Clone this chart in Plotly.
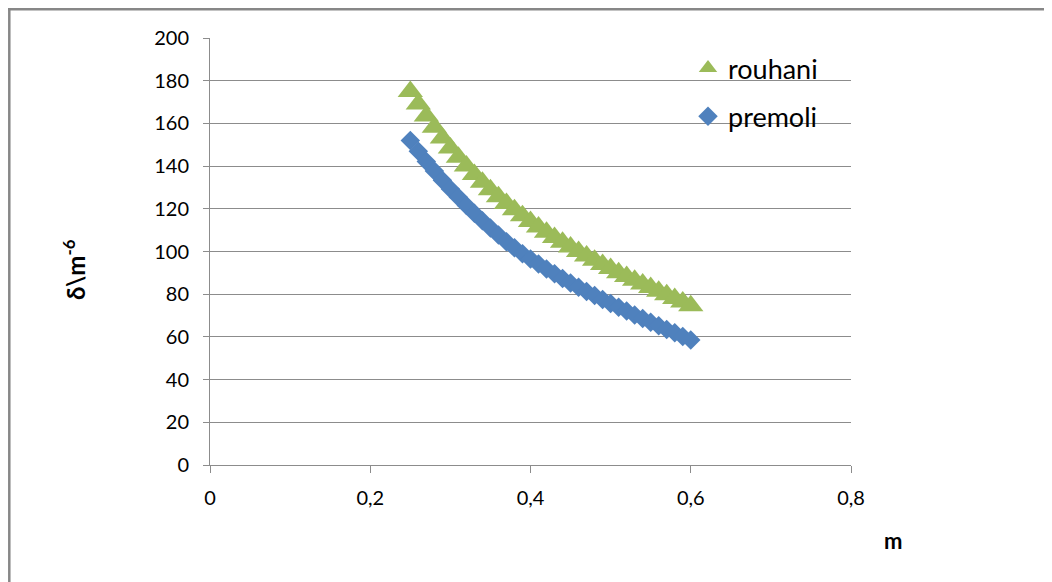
import plotly.graph_objects as go

m_values = [0.25, 0.26, 0.27, 0.28, 0.29, 0.30, 0.31, 0.32, 0.33, 0.34, 0.35, 0.36,
            0.37, 0.38, 0.39, 0.40, 0.41, 0.42, 0.43, 0.44, 0.45, 0.46, 0.47, 0.48,
            0.49, 0.50, 0.51, 0.52, 0.53, 0.54, 0.55, 0.56, 0.57, 0.58, 0.59, 0.60]

rouhani = [175.0, 169.1, 163.5, 158.2, 153.2, 148.5, 144.1, 140.0, 136.1, 132.4, 128.9, 125.6,
           122.5, 119.6, 116.8, 114.1, 111.5, 109.0, 106.6, 104.3, 102.1, 100.0, 97.9, 95.9,
           93.9, 92.0, 90.1, 88.3, 86.5, 84.8, 83.1, 81.4, 79.7, 78.0, 76.3, 74.6]

premoli = [152.0, 147.0, 142.2, 137.7, 133.4, 129.3, 125.4, 121.6, 117.9, 114.4, 111.0, 107.7,
           104.6, 101.7, 99.0, 96.5, 94.1, 91.8, 89.6, 87.4, 85.3, 83.3, 81.3, 79.4,
           77.5, 75.7, 73.9, 72.1, 70.3, 68.6, 66.9, 65.2, 63.5, 61.9, 60.2, 58.6]

x_tickvals = [0, 0.2, 0.4, 0.6, 0.8]
x_ticktext = ["0", "0,2", "0,4", "0,6", "0,8"]
y_tickvals = [0, 20, 40, 60, 80, 100, 120, 140, 160, 180, 200]

GREEN = "#9BBB59"
BLUE = "#4F81BD"
GRAY = "#8C8C8C"
FONT = "Lato"

fig = go.Figure()
fig.add_trace(go.Scatter(
    x=m_values, y=rouhani, mode="markers", name="rouhani",
    legendgroup="a",
    marker=dict(symbol="triangle-up", size=22, color=GREEN),
))
fig.add_trace(go.Scatter(
    x=m_values, y=premoli, mode="markers", name="premoli",
    legendgroup="b",
    marker=dict(symbol="diamond", size=15, color=BLUE),
))

# the page puts the figure 8px in from the top-left corner
OFF = 8
W, H = 1052, 582
# plot area in page pixels
X0, X1, Y0, Y1 = 210, 851, 38, 465
L, T = X0 - OFF, Y0 - OFF
R, B = W + OFF - X1, H + OFF - Y1
pw, ph = X1 - X0, Y1 - Y0


def px_x(p):
    return (p - X0) / pw


def px_y(p):
    return (Y1 - p) / ph


fig.update_layout(
    width=W, height=H,
    margin=dict(l=L, r=R, t=T, b=B, pad=0),
    paper_bgcolor="white", plot_bgcolor="white",
    font=dict(family=FONT, color="#000000", size=20),
    showlegend=True,
    legend=dict(
        x=px_x(688), y=px_y(44), xanchor="left", yanchor="top",
        font=dict(family=FONT, size=27, color="#000000"),
        bgcolor="rgba(0,0,0,0)", borderwidth=0,
        tracegroupgap=10, traceorder="grouped",
    ),
    xaxis=dict(
        range=[0, 0.8], tickvals=x_tickvals, ticktext=x_ticktext,
        showgrid=False, zeroline=False,
        showline=True, linecolor=GRAY, linewidth=1,
        ticks="outside", ticklen=7, tickcolor=GRAY, tickwidth=1,
        tickfont=dict(family=FONT, size=20, color="#000000"),
        ticklabelstandoff=8,
    ),
    yaxis=dict(
        range=[0, 200], tickvals=y_tickvals,
        showgrid=True, gridcolor=GRAY, gridwidth=1, zeroline=False,
        showline=True, linecolor=GRAY, linewidth=1,
        ticks="outside", ticklen=6, tickcolor=GRAY, tickwidth=1,
        tickfont=dict(family=FONT, size=20, color="#000000"),
        ticklabelstandoff=10,
    ),
    annotations=[
        dict(text="<b>δ\\m<sup>-6</sup></b>", xref="paper", yref="paper",
             x=px_x(74), y=px_y(270), xanchor="center", yanchor="middle",
             textangle=-90, showarrow=False,
             font=dict(family=FONT, size=24, color="#000000")),
        dict(text="<b>m</b>", xref="paper", yref="paper",
             x=px_x(893), y=px_y(540), xanchor="center", yanchor="middle",
             showarrow=False,
             font=dict(family=FONT, size=22, color="#000000")),
    ],
    shapes=[
        dict(type="line", xref="paper", yref="paper",
             x0=px_x(8), x1=px_x(1100), y0=px_y(9.3), y1=px_y(9.3),
             line=dict(color="#878787", width=2.5)),
        dict(type="line", xref="paper", yref="paper",
             x0=px_x(9.3), x1=px_x(9.3), y0=px_y(8), y1=px_y(640),
             line=dict(color="#878787", width=2.5)),
    ],
)

fig.write_html("out.html")
